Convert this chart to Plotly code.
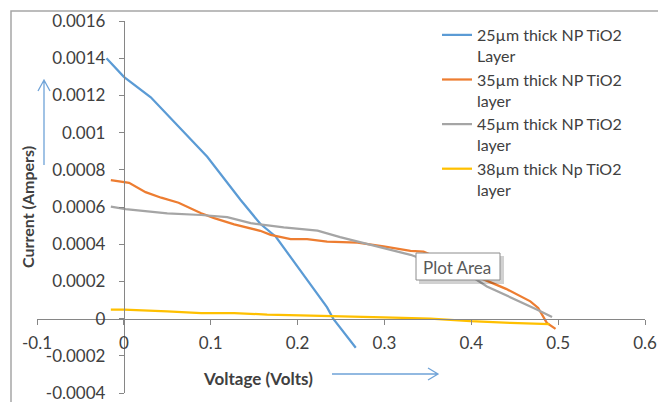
import plotly.graph_objects as go

# ---------------- data ----------------
blue_x = [-0.02, 0.0, 0.031, 0.062, 0.096, 0.134, 0.157, 0.175, 0.205, 0.234, 0.241, 0.267]
blue_y = [0.0014, 0.0013, 0.00119, 0.00104, 0.00087, 0.00064, 0.00051, 0.00044, 0.00025, 0.00006, 0.0, -0.000157]

orange_x = [-0.015, 0.006, 0.025, 0.043, 0.063, 0.089, 0.104, 0.127, 0.157, 0.169, 0.192, 0.211,
            0.234, 0.269, 0.299, 0.33, 0.345, 0.38, 0.406, 0.44, 0.468, 0.477, 0.487, 0.497]
orange_y = [0.000745, 0.00073, 0.00068, 0.00065, 0.000623, 0.000566, 0.00054, 0.000507, 0.000472,
            0.00045, 0.000427, 0.000427, 0.000414, 0.000409, 0.000388, 0.000364, 0.00036, 0.00029,
            0.000227, 0.00016, 0.0000927, 0.0000573, -0.000023, -0.000055]

gray_x = [-0.015, 0.002, 0.05, 0.089, 0.119, 0.146, 0.184, 0.223, 0.249, 0.276, 0.33, 0.403, 0.418, 0.476, 0.493]
gray_y = [0.000602, 0.000588, 0.000566, 0.000557, 0.000545, 0.000513, 0.00049, 0.000473, 0.000438,
          0.000406, 0.000343, 0.000218, 0.000173, 0.000048, 0.000009]

yellow_x = [-0.015, 0.0, 0.05, 0.089, 0.127, 0.165, 0.203, 0.249, 0.299, 0.353, 0.399, 0.445, 0.483, 0.49]
yellow_y = [0.000048, 0.000048, 0.000039, 0.00003, 0.00003, 0.0000215, 0.0000177, 0.000014, 0.000007,
            0.0, -0.000014, -0.000023, -0.000029, -0.00003]

series_names = ["25µm thick NP TiO2<br>Layer", "35µm thick NP TiO2<br>layer",
                "45µm thick NP TiO2<br>layer", "38µm thick Np TiO2<br>layer"]

x_tickvals = [-0.1, 0.0, 0.1, 0.2, 0.3, 0.4, 0.5, 0.6]
x_ticktext = ["-0.1", "0", "0.1", "0.2", "0.3", "0.4", "0.5", "0.6"]
y_tickvals = [-0.0004, -0.0002, 0.0, 0.0002, 0.0004, 0.0006, 0.0008, 0.001, 0.0012, 0.0014, 0.0016]
y_ticktext = ["-0.0004", "-0.0002", "0", "0.0002", "0.0004", "0.0006", "0.0008",
              "0.001", "0.0012", "0.0014", "0.0016"]

# ---------------- figure ----------------
W, H = 658, 402
L, R, T, B = 37, 13, 21, 9
FONT = "Lato"
TXT = "#404040"

def px(p):
    return (p - L) / (W - L - R)

def py(p):
    return (H - B - p) / (H - T - B)

colors = ["#5B9BD5", "#ED7D31", "#A5A5A5", "#FFC000"]
xs = [blue_x, orange_x, gray_x, yellow_x]
ys = [blue_y, orange_y, gray_y, yellow_y]

fig = go.Figure()
for i in range(4):
    fig.add_trace(go.Scatter(x=xs[i], y=ys[i], mode="lines", name=series_names[i],
                             line=dict(color=colors[i], width=2.25), legendgroup=str(i)))

xmin, xmax = -0.1, 0.6
ymin, ymax = -0.0004, 0.0016

fig.update_layout(
    width=W, height=H,
    margin=dict(l=L, r=R, t=T, b=B, autoexpand=False),
    paper_bgcolor="white", plot_bgcolor="white",
    font=dict(family=FONT, size=16, color=TXT),
    showlegend=True,
    legend=dict(x=px(437), y=py(18), xanchor="left", yanchor="top",
                bgcolor="rgba(0,0,0,0)", font=dict(family=FONT, size=16, color=TXT),
                valign="top", tracegroupgap=0, itemwidth=30),
    xaxis=dict(range=[xmin, xmax], anchor="free", position=(0 - ymin) / (ymax - ymin),
               tickvals=x_tickvals, ticktext=x_ticktext, ticks="outside", ticklen=5,
               tickcolor="#868686", showline=True, linecolor="#868686", linewidth=1,
               showgrid=False, zeroline=False, automargin=False, ticklabelstandoff=4,
               ticklabeloverflow="allow",
               tickfont=dict(family=FONT, size=17, color=TXT)),
    yaxis=dict(range=[ymin, ymax], anchor="free", position=(0 - xmin) / (xmax - xmin),
               tickvals=y_tickvals, ticktext=y_ticktext, ticks="outside", ticklen=5,
               tickcolor="#868686", showline=True, linecolor="#868686", linewidth=1,
               showgrid=False, zeroline=False, automargin=False, ticklabelstandoff=10,
               ticklabeloverflow="allow",
               tickfont=dict(family=FONT, size=17, color=TXT)),
)

arrow_c = "#6FA3D8"
shapes = [
    # outer chart border (cropped at right/bottom)
    dict(type="rect", xref="paper", yref="paper", x0=px(11), y0=py(420), x1=px(680), y1=py(11),
         line=dict(color="#A6A6A6", width=1.5), fillcolor="rgba(0,0,0,0)", layer="below"),
    # up arrow
    dict(type="path", xref="paper", yref="paper",
         path=f"M {px(44)},{py(165)} L {px(44)},{py(80)} M {px(38)},{py(91)} L {px(44)},{py(80)} L {px(50)},{py(91)}",
         line=dict(color=arrow_c, width=1.3)),
    # right arrow
    dict(type="path", xref="paper", yref="paper",
         path=f"M {px(332)},{py(374)} L {px(438)},{py(374)} M {px(428)},{py(368)} L {px(438)},{py(374)} L {px(428)},{py(380)}",
         line=dict(color=arrow_c, width=1.3)),
    # Plot Area tooltip shadow and box
    dict(type="rect", xref="paper", yref="paper", x0=px(419), y0=py(284), x1=px(504), y1=py(256),
         line=dict(width=0), fillcolor="rgba(0,0,0,0.18)"),
    dict(type="rect", xref="paper", yref="paper", x0=px(416), y0=py(280), x1=px(500), y1=py(253),
         line=dict(color="#8C8C8C", width=1), fillcolor="white"),
]
fig.update_layout(shapes=shapes)

fig.add_annotation(x=px(457), y=py(267), xref="paper", yref="paper", text="Plot Area",
                   xanchor="center", yanchor="middle",
                   showarrow=False, font=dict(family=FONT, size=17, color="#595959"))
fig.add_annotation(x=px(258), y=py(378), xref="paper", yref="paper", text="<b>Voltage (Volts)</b>",
                   xanchor="center", yanchor="middle",
                   showarrow=False, font=dict(family=FONT, size=17, color=TXT))
fig.add_annotation(x=px(27), y=py(207), xref="paper", yref="paper", text="<b>Current (Ampers)</b>",
                   xanchor="center", yanchor="middle",
                   showarrow=False, textangle=-90, font=dict(family=FONT, size=16, color=TXT))

fig.write_html("out.html")
